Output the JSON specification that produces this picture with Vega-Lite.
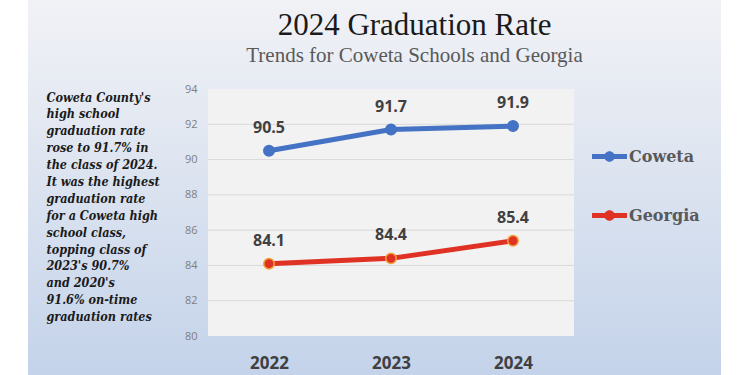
{
  "$schema": "https://vega.github.io/schema/vega-lite/v6.json",
  "width": 693,
  "height": 375,
  "autosize": {"type": "none"},
  "padding": {"left": 28, "top": 0, "right": 29, "bottom": 0},
  "background": "white",
  "config": {
    "view": {
      "stroke": null,
      "fill": {
        "gradient": "linear", "x1": 0, "y1": 0, "x2": 0, "y2": 1,
        "stops": [
          {"offset": 0, "color": "#f1f2f6"},
          {"offset": 0.3, "color": "#e4e9f2"},
          {"offset": 1, "color": "#c4d3ea"}
        ]
      }
    }
  },
  "title": {
    "text": "2024 Graduation Rate",
    "subtitle": "Trends for Coweta Schools and Georgia",
    "anchor": "middle",
    "frame": "group",
    "font": "Liberation Serif",
    "fontSize": 31,
    "fontWeight": "normal",
    "color": "#1a1a1a",
    "subtitleFont": "Liberation Serif",
    "subtitleFontSize": 21,
    "subtitleColor": "#595959",
    "subtitlePadding": 3,
    "offset": 0,
    "dx": 40,
    "dy": 67
  },
  "datasets": {
    "rates": [
      {"year": 2022, "series": "Coweta", "rate": 90.5},
      {"year": 2023, "series": "Coweta", "rate": 91.7},
      {"year": 2024, "series": "Coweta", "rate": 91.9},
      {"year": 2022, "series": "Georgia", "rate": 84.1},
      {"year": 2023, "series": "Georgia", "rate": 84.4},
      {"year": 2024, "series": "Georgia", "rate": 85.4}
    ],
    "grid": [
      {"g": 82}, {"g": 84}, {"g": 86}, {"g": 88}, {"g": 90}, {"g": 92}
    ]
  },
  "layer": [
    {
      "data": {"values": [{"a": 1}]},
      "mark": {"type": "rect", "color": "#f2f2f2"},
      "encoding": {
        "x": {"datum": 2021.5, "type": "quantitative", "scale": {"domain": [2021.5, 2024.5], "range": [180, 546], "nice": false, "zero": false}},
        "x2": {"datum": 2024.5},
        "y": {"datum": 80, "type": "quantitative", "scale": {"domain": [80, 94], "range": [336, 89], "nice": false, "zero": false}},
        "y2": {"datum": 94}
      }
    },
    {
      "data": {"name": "grid"},
      "mark": {"type": "rule", "color": "#d9d9d9", "strokeWidth": 1},
      "encoding": {
        "x": {"datum": 2021.5, "type": "quantitative"},
        "x2": {"datum": 2024.5},
        "y": {"field": "g", "type": "quantitative"}
      }
    },
    {
      "data": {"name": "rates"},
      "mark": {"type": "line", "strokeWidth": 5},
      "encoding": {
        "x": {
          "field": "year", "type": "quantitative",
          "axis": {
            "orient": "bottom", "offset": -39, "values": [2022, 2023, 2024], "format": "d",
            "domain": false, "ticks": false, "grid": false, "title": null,
            "labelPadding": 19, "labelFont": "Open Sans", "labelFontSize": 17,
            "labelFontWeight": "bold", "labelColor": "#404040", "zindex": 1
          }
        },
        "y": {
          "field": "rate", "type": "quantitative",
          "axis": {
            "orient": "left", "offset": -180, "values": [80, 82, 84, 86, 88, 90, 92, 94],
            "domain": false, "ticks": false, "grid": false, "zindex": 1,
            "labelPadding": 11, "labelFont": "Open Sans", "labelFontSize": 11, "labelColor": "#808080",
            "title": ["Coweta County's", "high school", "graduation rate", "rose to 91.7% in", "the class of 2024.", "It was the highest", "graduation rate", "for a Coweta high", "school class,", "topping class of", "2023's 90.7%", "and 2020's", "91.6% on-time", "graduation rates"],
            "titleAngle": 0, "titleAlign": "left", "titleBaseline": "top",
            "titleX": -162, "titleY": 91,
            "titleFont": "DejaVu Serif Condensed, DejaVu Serif", "titleFontSize": 12.5,
            "titleFontStyle": "italic", "titleFontWeight": "bold",
            "titleLineHeight": 16.9, "titleColor": "#1a1a1a"
          }
        },
        "color": {
          "field": "series", "type": "nominal",
          "scale": {"domain": ["Coweta", "Georgia"], "range": ["#4472c4", "#e03224"]},
          "legend": {
            "orient": "none", "legendX": 564, "legendY": 139, "title": null,
            "padding": 0, "rowPadding": 33,
            "symbolType": "M-1,-0.14H1V0.14H-1Z M0.3,0A0.3,0.3,0,1,1,-0.3,0A0.3,0.3,0,1,1,0.3,0Z",
            "symbolSize": 1225, "symbolStrokeWidth": 0,
            "labelFont": "DejaVu Serif", "labelFontSize": 16, "labelFontWeight": "bold",
            "labelColor": "#595959", "labelOffset": 2,
            "encode": {"symbols": {"update": {"fill": {"scale": "color", "field": "value"}, "fillOpacity": {"value": 1}}}}
          }
        }
      }
    },
    {
      "data": {"name": "rates"},
      "mark": {"type": "point", "filled": true, "size": 110, "opacity": 1, "strokeWidth": 1.5},
      "encoding": {
        "x": {"field": "year", "type": "quantitative"},
        "y": {"field": "rate", "type": "quantitative"},
        "color": {"field": "series", "type": "nominal", "legend": null},
        "stroke": {
          "field": "series", "type": "nominal",
          "scale": {"domain": ["Coweta", "Georgia"], "range": ["#4472c4", "#f2a33a"]},
          "legend": null
        }
      }
    },
    {
      "data": {"name": "rates"},
      "mark": {"type": "text", "dy": -23, "font": "Open Sans", "fontSize": 16, "fontWeight": "bold", "color": "#404040", "baseline": "middle"},
      "encoding": {
        "x": {"field": "year", "type": "quantitative"},
        "y": {"field": "rate", "type": "quantitative"},
        "text": {"field": "rate", "type": "quantitative", "format": ".1f"}
      }
    }
  ]
}
